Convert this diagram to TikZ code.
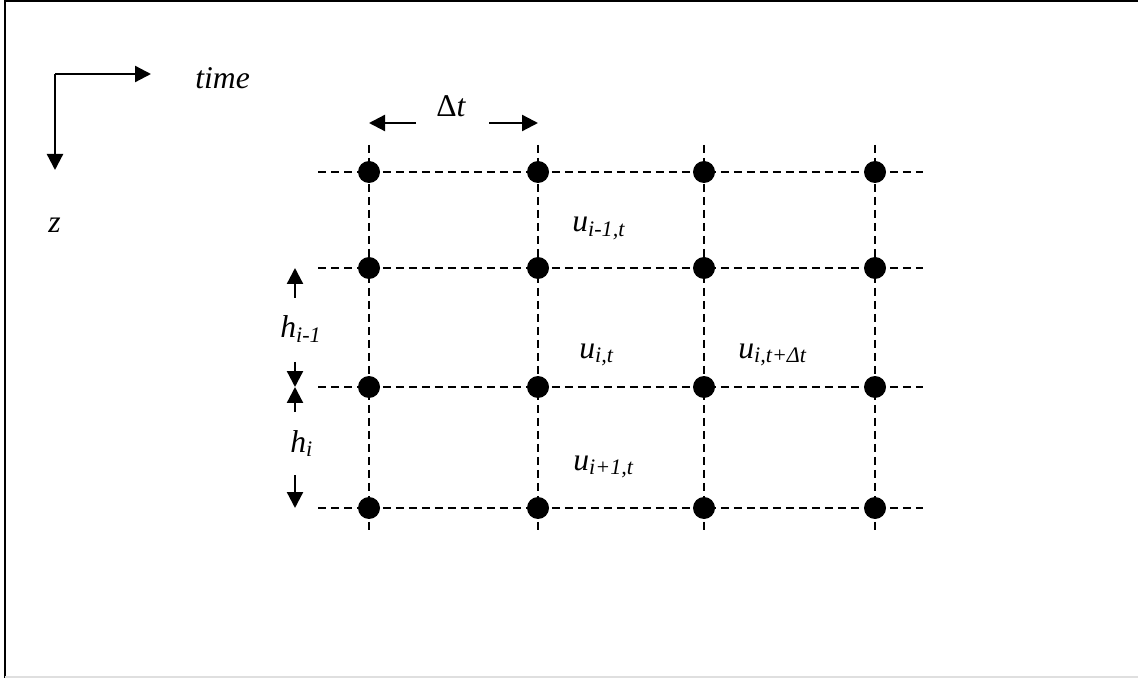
\documentclass[tikz,border=0pt]{standalone}
\usepackage{fontspec}
\setmainfont{Liberation Serif}
\usetikzlibrary{arrows.meta}
\tikzstyle{punto} = [circle, fill=black, inner sep=0pt, minimum size=0.44cm]
\tikzstyle{rejilla} = [line width=1.2pt, dash pattern=on 0.16cm off 0.1cm]
\tikzstyle{flecha} = [line width=1.3pt, -{Triangle[length=0.32cm, width=0.32cm]}]
\tikzstyle{etiqueta} = [font=\fontsize{18}{22}\selectfont\itshape, inner sep=0pt, anchor=base west]

\begin{document}
\begin{tikzpicture}[x=0.02cm, y=-0.02cm]
	\useasboundingbox (0,0) rectangle (1138,678);
	% marco
	\draw[line width=1.6pt] (5,678) -- (5,1) -- (1138,1);
	\draw[gray!25, line width=0.8pt] (5,677) -- (1138,677);
	% ejes
	\coordinate (origen) at (55,74);
	\coordinate (fintiempo) at (151,74);
	\coordinate (finz) at (55,170);
	\draw[flecha] (origen) -- (fintiempo);
	\draw[flecha] (origen) -- (finz);
	\node[etiqueta] (tiempo) at (195,89) {time};
	\node[etiqueta] (zeta) at (48,233) {z};
	% rejilla
	\foreach \y [count=\r] in {172,268,387,508} {
		\coordinate (izq\r) at (318,\y);
		\coordinate (der\r) at (923,\y);
		\draw[rejilla] (izq\r) -- (der\r);
	}
	\foreach \x [count=\c] in {369,538,704,875} {
		\coordinate (arr\c) at (\x,145);
		\coordinate (aba\c) at (\x,533);
		\draw[rejilla] (arr\c) -- (aba\c);
		\foreach \y [count=\r] in {172,268,387,508}
			\node[punto] (p\c\r) at (\x,\y) {};
	}
	% paso de tiempo
	\node[etiqueta, font=\fontsize{18}{22}\selectfont] (dt) at (436,117) {Δ\textit{t}};
	\coordinate (dtizq) at (416,123);
	\coordinate (dtder) at (489,123);
	\draw[flecha] (dtizq) -- (p11.center |- dtizq);
	\draw[flecha] (dtder) -- (p21.center |- dtder);
	% espesores
	\node[etiqueta] (hsup) at (280,338) {h\textsubscript{i-1}};
	\node[etiqueta] (hinf) at (290,452) {h\textsubscript{i}};
	\coordinate (h1) at (295,298);
	\coordinate (h2) at (295,362);
	\coordinate (h3) at (295,412);
	\coordinate (h4) at (295,475);
	\draw[flecha] (h1) -- (h1 |- p12);
	\draw[flecha] (h2) -- (h2 |- p13);
	\draw[flecha] (h3) -- (h3 |- p13);
	\draw[flecha] (h4) -- (h4 |- p14);
	% valores
	\node[etiqueta] (uarriba) at (572,232) {u\textsubscript{i-1,t}};
	\node[etiqueta] (ucentro) at (579,358) {u\textsubscript{i,t}};
	\node[etiqueta] (usig) at (738,358) {u\textsubscript{i,t+Δt}};
	\node[etiqueta] (uabajo) at (573,470) {u\textsubscript{i+1,t}};
\end{tikzpicture}
\end{document}
